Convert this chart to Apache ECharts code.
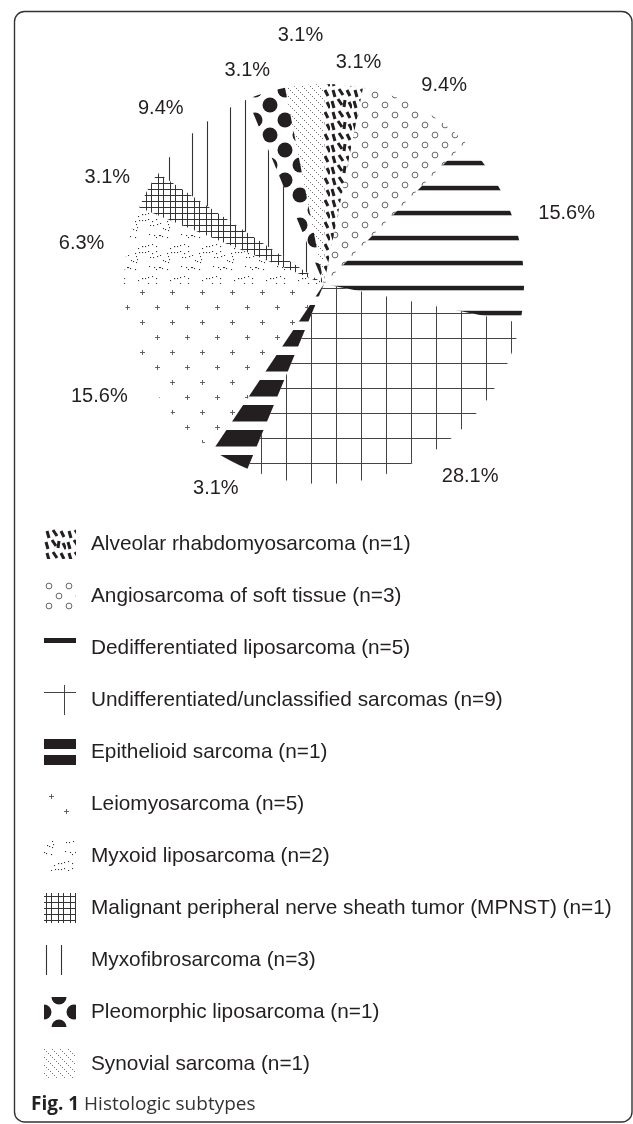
<!DOCTYPE html>
<html>
<head>
<meta charset="utf-8">
<script src="https://cdn.jsdelivr.net/npm/echarts@6/dist/echarts.min.js"></script>
<style>
  html, body { margin: 0; padding: 0; background: #fff; }
  #pieChart { width: 633px; height: 1124px; }
</style>
</head>
<body>
<div id="pieChart"></div>
<script>
// 组织学亚型
const categories = [
    'Alveolar rhabdomyosarcoma',
    'Angiosarcoma of soft tissue',
    'Dedifferentiated liposarcoma',
    'Undifferentiated/unclassified sarcomas',
    'Epithelioid sarcoma',
    'Leiomyosarcoma',
    'Myxoid liposarcoma',
    'Malignant peripheral nerve sheath tumor (MPNST)',
    'Myxofibrosarcoma',
    'Pleomorphic liposarcoma',
    'Synovial sarcoma'
];
const counts = [1, 3, 5, 9, 1, 5, 2, 1, 3, 1, 1];
const total = counts.reduce((a, b) => a + b, 0);

// label nudges (px), relative to the label ring
const labelNudge = [[11, 17], [7, 13], [13, -1], [33, -19], [5, -7], [-13, -1],
    [-7, 6], [-5, 7], [-11, 10], [-7, 16], [0, -10]];

const ink = '#231f20';

function tile(w, h, draw) {
    const c = document.createElement('canvas');
    c.width = w;
    c.height = h;
    const g = c.getContext('2d');
    draw(g, w, h);
    return { image: c, repeat: 'repeat' };
}

function line(g, x1, y1, x2, y2) {
    g.beginPath();
    g.moveTo(x1, y1);
    g.lineTo(x2, y2);
    g.stroke();
}

const patterns = [
    // alveolar: short thick dashes
    tile(22, 22, g => {
        g.strokeStyle = ink;
        g.lineWidth = 3;
        [[3, 2, 5, 9], [9, 1, 13, 7], [17, 2, 20, 8], [2, 13, 4, 20],
         [8, 11, 12, 17], [15, 12, 14, 19], [19, 14, 22, 20]].forEach(s => line(g, s[0], s[1], s[2], s[3]));
    }),
    // angiosarcoma: small circles
    tile(20, 20, g => {
        g.strokeStyle = '#555';
        g.lineWidth = 0.9;
        [[5, 5], [15, 15]].forEach(p => {
            g.beginPath();
            g.arc(p[0], p[1], 2.9, 0, Math.PI * 2);
            g.stroke();
        });
    }),
    // dedifferentiated: thin bars
    tile(10, 25, g => {
        g.fillStyle = ink;
        g.fillRect(0, 10.8, 10, 4.5);
    }),
    // undifferentiated: grid
    tile(25, 25, g => {
        g.strokeStyle = '#444';
        g.lineWidth = 1;
        line(g, 11.5, 0, 11.5, 25);
        line(g, 0, 13.5, 25, 13.5);
    }),
    // epithelioid: thick bars
    tile(10, 25, g => {
        g.fillStyle = ink;
        g.fillRect(0, 5, 10, 16.5);
    }),
    // leiomyosarcoma: crosses
    tile(30, 30, g => {
        g.strokeStyle = '#555';
        g.lineWidth = 0.9;
        [[7.5, 7.5], [22.5, 22.5]].forEach(p => {
            line(g, p[0] - 2.5, p[1], p[0] + 2.5, p[1]);
            line(g, p[0], p[1] - 2.5, p[0], p[1] + 2.5);
        });
    }),
    // myxoid: fine dots
    tile(32, 32, g => {
        g.fillStyle = '#333';
        let s = 7;
        for (let i = 0; i < 30; i++) {
            s = (s * 73 + 41) % 1021;
            const x = s % 32;
            s = (s * 73 + 41) % 1021;
            const y = s % 32;
            g.fillRect(x, y, 1.1, 1.1);
        }
    }),
    // MPNST: dense hatch
    tile(12, 12, g => {
        g.strokeStyle = '#333';
        g.lineWidth = 1;
        line(g, 2.5, 0, 2.5, 12);
        line(g, 7.5, 0, 7.5, 12);
        line(g, 0, 3.5, 12, 3.5);
        line(g, 0, 9.5, 12, 9.5);
    }),
    // myxofibrosarcoma: vertical lines
    tile(38, 10, g => {
        g.strokeStyle = '#333';
        g.lineWidth = 1.1;
        line(g, 2.5, 0, 2.5, 10);
        line(g, 17.5, 0, 17.5, 10);
    }),
    // pleomorphic: big dots
    tile(30, 30, g => {
        g.fillStyle = ink;
        [[15, 0], [15, 30], [0, 15], [30, 15]].forEach(p => {
            g.beginPath();
            g.arc(p[0], p[1], 7.5, 0, Math.PI * 2);
            g.fill();
        });
    }),
    // synovial: dotted diagonals
    tile(8, 8, g => {
        g.fillStyle = '#777';
        for (let i = 0; i < 4; i++) g.fillRect(i * 2, i * 2, 1, 1);
    })
];

// legend swatches that differ from the pie tiling
const legendPatterns = {
    2: tile(10, 30, g => { g.fillStyle = ink; g.fillRect(0, 5, 10, 5); }),
    3: tile(32, 30, g => {
        g.strokeStyle = '#444';
        g.lineWidth = 1;
        line(g, 20.5, 0, 20.5, 30);
        line(g, 0, 7.5, 32, 7.5);
    }),
    4: tile(10, 30, g => { g.fillStyle = ink; g.fillRect(0, 2, 10, 10); g.fillRect(0, 18, 10, 10); })
};

const pieData = categories.map((name, i) => ({
    name: name,
    value: counts[i],
    itemStyle: { color: patterns[i] }
}));

const labelData = categories.map((name, i) => ({ name: name, value: counts[i] }));

const legendData = categories.map((name, i) => legendPatterns[i]
    ? { name: name, itemStyle: { color: legendPatterns[i] } }
    : { name: name });

const option = {
    backgroundColor: '#fff',
    animation: false,
    legend: {
        orient: 'vertical',
        left: 39,
        top: 524,
        icon: 'rect',
        itemWidth: 32,
        itemHeight: 30,
        itemGap: 22,
        selectedMode: false,
        data: legendData,
        formatter: name => name + ' (n=' + counts[categories.indexOf(name)] + ')',
        textStyle: {
            fontFamily: 'Liberation Sans',
            fontSize: 20.8,
            color: ink,
            padding: [0, 0, 0, 10]
        }
    },
    series: [{
        type: 'pie',
        center: [324, 284],
        radius: 200,
        startAngle: 90,
        silent: true,
        label: { show: false },
        labelLine: { show: false },
        data: pieData
    }, {
        type: 'pie',
        center: [324, 284],
        radius: [228, 246],
        startAngle: 90,
        silent: true,
        itemStyle: { color: 'rgba(0,0,0,0)' },
        label: {
            show: true,
            position: 'inside',
            fontFamily: 'Liberation Sans',
            fontSize: 20,
            color: ink,
            formatter: p => (p.value / total * 100).toFixed(1) + '%'
        },
        labelLine: { show: false },
        labelLayout: p => ({ dx: labelNudge[p.dataIndex][0], dy: labelNudge[p.dataIndex][1] }),
        data: labelData
    }],
    graphic: [{
        type: 'rect',
        shape: { x: 14.5, y: 11.5, width: 617.5, height: 1110.5, r: 10 },
        style: { fill: 'none', stroke: '#333', lineWidth: 1.4 },
        silent: true
    }, {
        type: 'text',
        left: 31,
        top: 1095,
        style: {
            text: '{b|Fig. 1} Histologic subtypes',
            font: '19px "Open Sans"',
            fill: '#333',
            rich: {
                b: { fontFamily: 'Open Sans', fontSize: 19, fontWeight: 'bold', fill: '#222' }
            }
        },
        silent: true
    }]
};

const myChart = echarts.init(document.getElementById('pieChart'));
// 绘制图表
myChart.setOption(option);
</script>
</body>
</html>
